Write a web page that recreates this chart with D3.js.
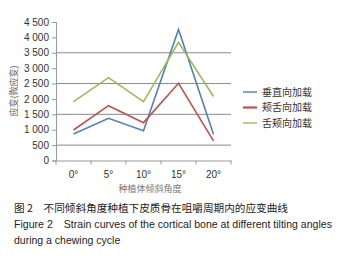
<!DOCTYPE html>
<html>
<head>
<meta charset="utf-8">
<script src="https://cdn.jsdelivr.net/npm/d3@7"></script>
<style>
  body { margin: 0; background: #fff; }
  svg { display: block; font-family: "Liberation Sans", Arial, sans-serif; }
</style>
</head>
<body>
<div id="chart"></div>
<script>
const angles = ['0°', '5°', '10°', '15°', '20°'];
const yTicks = [0, 500, 1000, 1500, 2000, 2500, 3000, 3500, 4000, 4500];
const gridValues = [500, 1500, 2500, 3500];
const vertical = [860, 1370, 970, 4260, 850];
const buccoLingual = [990, 1780, 1230, 2510, 640];
const linguoBuccal = [1910, 2690, 1910, 3840, 2080];
const seriesNames = ['垂直向加载', '颊舌向加载', '舌颊向加载'];
const colors = ['#4f81bd', '#c0504d', '#9bbb59'];
const series = [vertical, buccoLingual, linguoBuccal];

const svg = d3.select('#chart').append('svg')
  .attr('width', 338)
  .attr('height', 261);

const x = d3.scaleBand().domain(angles).range([56, 231]);
const y = d3.scaleLinear().domain([0, 4500]).range([160.5, 22]);

// gridlines
svg.selectAll('.grid')
  .data(gridValues)
  .enter().append('line')
  .attr('x1', 56).attr('x2', 231)
  .attr('y1', d => y(d)).attr('y2', d => y(d))
  .attr('stroke', '#8a8a8a').attr('stroke-width', 1);

// y axis
const yAxis = svg.append('g')
  .attr('transform', 'translate(56,0)')
  .call(d3.axisLeft(y).tickValues(yTicks).tickSize(4)
    .tickFormat(d => d3.format(',')(d).replace(',', ' ')));
yAxis.select('.domain').attr('stroke', '#999');
yAxis.selectAll('.tick line').attr('stroke', '#999');
yAxis.selectAll('text').attr('font-size', 10).attr('fill', '#333').attr('x', -7);

// x axis
const xAxis = svg.append('g')
  .attr('transform', 'translate(0,160.5)')
  .call(d3.axisBottom(x).tickSize(0).tickPadding(10));
xAxis.select('.domain').attr('stroke', '#999');
xAxis.selectAll('text').attr('font-size', 10).attr('fill', '#333');
xAxis.selectAll('.sep')
  .data(angles.concat(['end']))
  .enter().append('line')
  .attr('x1', (d, i) => 56 + i * x.bandwidth())
  .attr('x2', (d, i) => 56 + i * x.bandwidth())
  .attr('y1', 0).attr('y2', 4)
  .attr('stroke', '#999');

// lines
const line = d3.line()
  .x((d, i) => x(angles[i]) + x.bandwidth() / 2)
  .y(d => y(d));

series.forEach((s, i) => {
  svg.append('path')
    .datum(s)
    .attr('d', line)
    .attr('fill', 'none')
    .attr('stroke', colors[i])
    .attr('stroke-width', 1.6);
});

// axis titles
svg.append('text')
  .attr('transform', 'translate(17,91) rotate(-90)')
  .attr('text-anchor', 'middle')
  .attr('font-family', '"Noto Sans CJK SC"')
  .attr('font-size', 9)
  .attr('fill', '#666')
  .text('应变(微应变)');

svg.append('text')
  .attr('x', 150).attr('y', 192)
  .attr('text-anchor', 'middle')
  .attr('font-family', '"Noto Sans CJK SC"')
  .attr('font-size', 9)
  .attr('fill', '#777')
  .text('种植体倾斜角度');

// legend
const legend = svg.selectAll('.legend')
  .data(seriesNames)
  .enter().append('g')
  .attr('transform', (d, i) => `translate(243,${92 + i * 15.5})`);
legend.append('line')
  .attr('x1', 0).attr('x2', 14)
  .attr('stroke', (d, i) => colors[i])
  .attr('stroke-width', (d, i) => i === 1 ? 2.2 : 1.4);
legend.append('text')
  .attr('x', 19).attr('y', 3.5)
  .attr('font-family', '"Noto Sans CJK SC"')
  .attr('font-size', 10)
  .attr('fill', '#333')
  .text(d => d);

// caption
const caption = [
  '图 2　不同倾斜角度种植下皮质骨在咀嚼周期内的应变曲线',
  'Figure 2　Strain curves of the cortical bone at different tilting angles',
  'during a chewing cycle'
];
svg.selectAll('.caption')
  .data(caption)
  .enter().append('text')
  .attr('x', 14)
  .attr('y', (d, i) => 212 + i * 16)
  .attr('font-family', (d, i) => i === 0 ? '"Noto Sans CJK SC"' : '"Liberation Sans", Arial, sans-serif')
  .attr('font-size', 10.5)
  .attr('fill', '#222')
  .attr('textLength', (d, i) => i === 0 ? 274 : i === 1 ? 318 : null)
  .attr('lengthAdjust', 'spacingAndGlyphs')
  .text(d => d);
</script>
</body>
</html>
